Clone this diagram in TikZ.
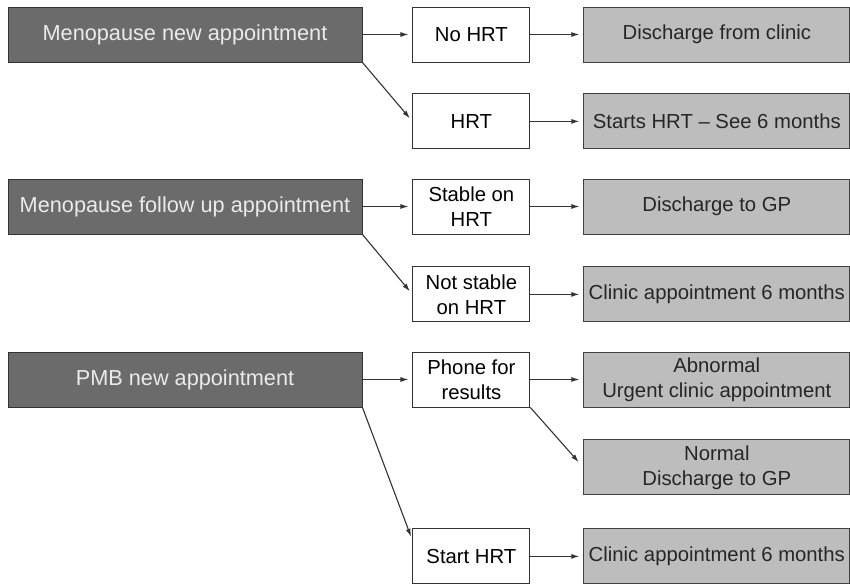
\documentclass[tikz,border=0pt]{standalone}
\usepackage{fontspec}
\setmainfont{Liberation Sans}
\usetikzlibrary{arrows.meta,positioning}
\definecolor{darkbox}{gray}{0.42}
\definecolor{lightbox}{gray}{0.74}

\begin{document}
\begin{tikzpicture}[x=1pt, y=1pt, node distance=32pt and 50pt,
  every node/.style={font=\fontsize{20.3}{25}\selectfont, align=center, inner sep=2pt},
  visit/.style={draw=black!80, line width=0.9pt, fill=darkbox, text=white!92!black, font=\fontsize{21.7}{25}\selectfont, minimum width=354pt, minimum height=55pt},
  choice/.style={draw=black!80, line width=0.9pt, fill=white, minimum width=117pt, minimum height=55pt},
  outcome/.style={draw=black!75, line width=0.9pt, fill=lightbox, text=black!85, minimum width=266pt, minimum height=55pt},
  flow/.style={-{Latex[length=8pt,width=5pt]}, line width=1.1pt, draw=black!80, shorten >=4pt}]
\useasboundingbox (0,0) rectangle (850,-583);

% menopause new appointment
\node[visit] (d1) at (185,-34.5) {Menopause new appointment};
\node[choice, right=of d1] (m1) {No HRT};
\node[outcome, right=53pt of m1] (r1) {Discharge from clinic};
\node[choice, below=31pt of m1] (m2) {HRT};
\node[outcome, right=53pt of m2] (r2) {Starts HRT -- See 6 months};

% menopause follow up appointment
\node[visit] (d2) at (185,-206.5) {Menopause follow up appointment};
\node[choice, right=of d2] (m3) {Stable on\\HRT};
\node[outcome, right=53pt of m3] (r3) {Discharge to GP};
\node[choice, below=of m3] (m4) {Not stable\\on HRT};
\node[outcome, right=53pt of m4] (r4) {Clinic appointment 6 months};

% PMB new appointment
\node[visit] (d3) at (185,-379.5) {PMB new appointment};
\node[choice, right=of d3] (m5) {Phone for\\results};
\node[outcome, right=53pt of m5] (r5) {Abnormal\\Urgent clinic appointment};
\node[outcome, below=of r5] (r6) {Normal\\Discharge to GP};
\node[choice, below=121pt of m5] (m7) {Start HRT};
\node[outcome, right=53pt of m7] (r7) {Clinic appointment 6 months};

\draw[flow] (d1) -- (m1);
\draw[flow] (m1) -- (r1);
\draw[flow] (d1.south east) -- (m2.west);
\draw[flow] (m2) -- (r2);
\draw[flow] (d2) -- (m3);
\draw[flow] (m3) -- (r3);
\draw[flow] (d2.south east) -- (m4.west);
\draw[flow] (m4) -- (r4);
\draw[flow] (d3) -- (m5);
\draw[flow] (m5) -- (r5);
\draw[flow, shorten >=7pt] (m5.south east) -- (r6.west);
\draw[flow] (d3.south east) -- ([yshift=-12pt]m7.north west);
\draw[flow] (m7) -- (r7);
\end{tikzpicture}
\end{document}
